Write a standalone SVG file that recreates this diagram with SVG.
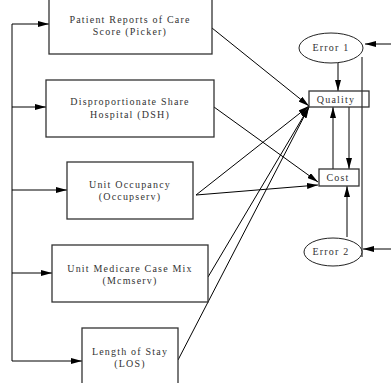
<svg xmlns="http://www.w3.org/2000/svg" width="391" height="383" viewBox="0 0 391 383">
<style>
.box{fill:#fff;stroke:#333;stroke-width:1.3}
.ell{fill:#fff;stroke:#222;stroke-width:1}
.t{font-family:"Liberation Serif","Times New Roman",serif;font-size:10px;fill:#333;text-anchor:middle;letter-spacing:1.2px}
.c{fill:none;stroke:#000;stroke-width:1}
.a{marker-end:url(#ah)}
</style>
<defs>
<marker id="ah" markerUnits="userSpaceOnUse" markerWidth="12" markerHeight="6" refX="11" refY="3" orient="auto">
<path d="M0,0 L11,3 L0,6 z" fill="#000"/>
</marker>
</defs>
<rect width="391" height="383" fill="#fff"/>
<g id="connectors">
<path class="c" d="M12,24 V361"/>
<path class="c a" d="M12,24 H49"/>
<path class="c a" d="M12,107 H46"/>
<path class="c a" d="M12,190 H67"/>
<path class="c a" d="M12,273 H52"/>
<path class="c a" d="M12,361 H82"/>
<path class="c a" d="M212,28 L309,106"/>
<path class="c a" d="M214,107 L318,182"/>
<path class="c a" d="M196,195 L309,106"/>
<path class="c a" d="M196,195 L318,185"/>
<path class="c a" d="M208,277 L309,107"/>
<path class="c a" d="M178,360 L309,107"/>
<path class="c a" d="M338,63 V91"/>
<path class="c a" d="M333,169 V107"/>
<path class="c a" d="M349,107 V169"/>
<path class="c a" d="M347,237 V186"/>
<path class="c" d="M362,57 V257"/>
<path class="c a" d="M391,44 H365"/>
<path class="c a" d="M391,249 H363"/>
</g>
<g id="picker">
<rect class="box" x="49" y="-10" width="163" height="64"/>
<text class="t" x="130" y="23">Patient Reports of Care</text>
<text class="t" x="130" y="35">Score (Picker)</text>
</g>
<g id="dsh">
<rect class="box" x="46" y="80" width="168" height="57"/>
<text class="t" x="130" y="105">Disproportionate Share</text>
<text class="t" x="130" y="118">Hospital (DSH)</text>
</g>
<g id="occupserv">
<rect class="box" x="67" y="162" width="126" height="57"/>
<text class="t" x="130" y="188">Unit Occupancy</text>
<text class="t" x="130" y="200">(Occupserv)</text>
</g>
<g id="mcmserv">
<rect class="box" x="52" y="245" width="156" height="57"/>
<text class="t" x="130" y="272">Unit Medicare Case Mix</text>
<text class="t" x="130" y="284">(Mcmserv)</text>
</g>
<g id="los">
<rect class="box" x="82" y="328" width="96" height="62"/>
<text class="t" x="130" y="355">Length of Stay</text>
<text class="t" x="130" y="367">(LOS)</text>
</g>
<g id="quality">
<rect class="box" x="309" y="91" width="60" height="16" style="fill:none"/>
<text class="t" x="336" y="103">Quality</text>
</g>
<g id="cost">
<rect class="box" x="319" y="169" width="40" height="17"/>
<text class="t" x="338" y="181">Cost</text>
</g>
<g id="error1">
<ellipse class="ell" cx="331" cy="48" rx="32" ry="15"/>
<text class="t" x="331" y="51">Error 1</text>
</g>
<g id="error2">
<ellipse class="ell" cx="333" cy="252" rx="29" ry="14"/>
<text class="t" x="331" y="255">Error 2</text>
</g>
</svg>
